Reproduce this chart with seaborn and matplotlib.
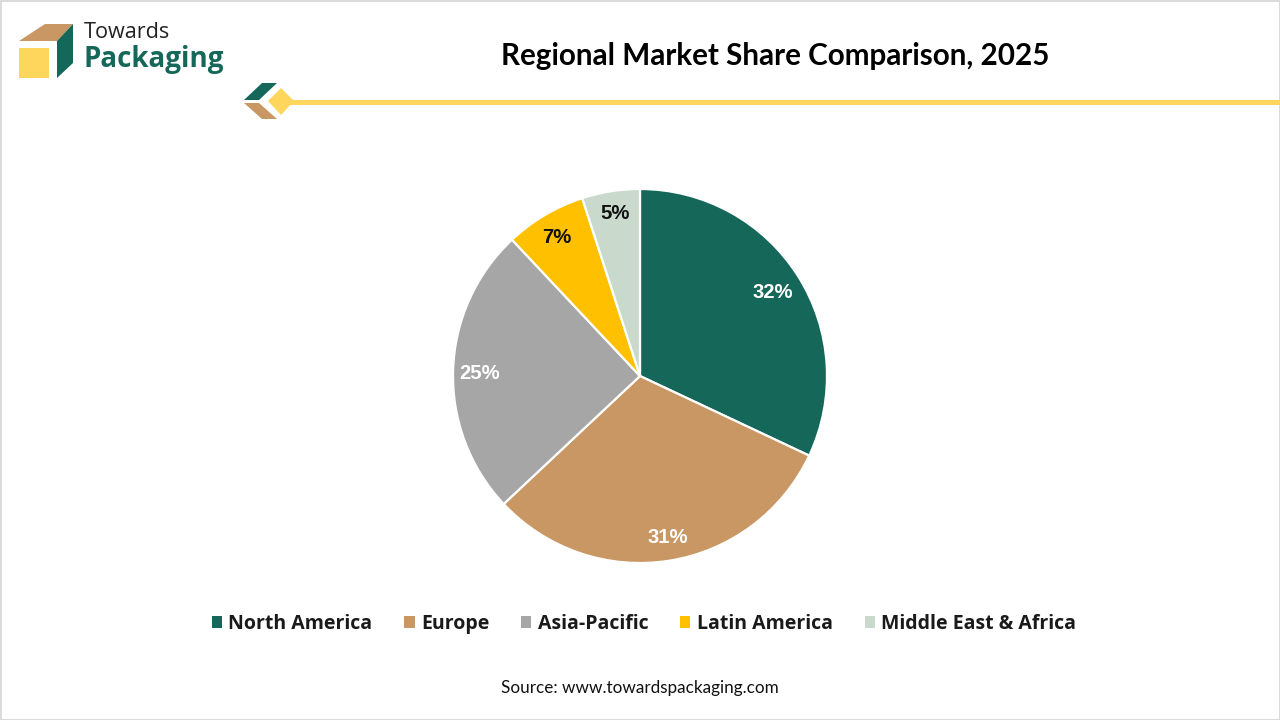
import matplotlib
matplotlib.use("Agg")
import matplotlib.pyplot as plt
from matplotlib.patches import Polygon, Rectangle
import seaborn as sns

regions = ["North America", "Europe", "Asia-Pacific", "Latin America", "Middle East & Africa"]
shares = [32, 31, 25, 7, 5]
palette = ["#156759", "#C89763", "#A6A6A6", "#FFC000", "#C9DACD"]
label_colors = ["white", "white", "white", "#111111", "#111111"]
label_nudges_px = [(-3, -3), (3, -3), (0, -3), (-1, 0), (0, 4)]
title = "Regional Market Share Comparison, 2025"
source = "Source: www.towardspackaging.com"

sns.set_theme(style="white")
sns.set_palette(palette)
fig = plt.figure(figsize=(12.8, 7.2), dpi=100, facecolor="white")

# overlay in pixel coordinates for branding
bg = fig.add_axes([0, 0, 1, 1])
bg.set_xlim(0, 1280); bg.set_ylim(720, 0); bg.axis("off")
bg.add_patch(Rectangle((0.5, 0.5), 1279, 719, fill=False, ec="#D4D4D4", lw=1.2))
bg.add_patch(Polygon([[19, 41], [45, 24], [73, 24], [57, 41]], fc="#C89763", ec="none"))
bg.add_patch(Polygon([[57, 41], [73, 24], [73, 63], [57, 78]], fc="#156759", ec="none"))
bg.add_patch(Rectangle((19, 48), 30, 30, fc="#FFD65C", ec="none"))
bg.text(84, 33, "Towards", fontsize=15.6, family="Open Sans", color="#222222", va="center")
bg.text(84, 60, "Packaging", fontsize=20, family="Open Sans", weight="bold", color="#156759", va="center")
bg.add_patch(Polygon([[244, 100], [262, 83], [277, 83], [259, 100]], fc="#156759", ec="none"))
bg.add_patch(Polygon([[244, 103], [259, 103], [277, 119], [262, 119]], fc="#C89763", ec="none"))
bg.add_patch(Rectangle((285, 100), 995, 5, fc="#FFD65C", ec="none"))
bg.add_patch(Polygon([[268, 101], [281, 88], [294, 101], [281, 115]], fc="#FFD65C", ec="none"))
bg.text(775.5, 56, title, fontsize=21.3, family="Lato", weight="bold", color="black", ha="center", va="center")
bg.text(640, 688, source, fontsize=12.3, family="Lato", color="#111111", ha="center", va="center")

# pie: centre (640, 376), radius 187 px
ax = fig.add_axes([(640 - 187) / 1280, (720 - 376 - 187) / 720, 374 / 1280, 374 / 720])
wedges, _, autotexts = ax.pie(
    shares, colors=palette, startangle=90, counterclock=False,
    autopct="%d%%", pctdistance=0.86,
    wedgeprops=dict(edgecolor="white", linewidth=1.6),
    textprops=dict(family="Liberation Sans", weight="bold", fontsize=14.6),
)
ax.set_xlim(-1, 1); ax.set_ylim(-1, 1)
for t, c, (dx, dy) in zip(autotexts, label_colors, label_nudges_px):
    t.set_color(c)
    x, y = t.get_position()
    t.set_position((x + dx / 187, y + dy / 187))

leg = fig.legend(
    wedges, regions, loc="center", bbox_to_anchor=(644 / 1280, (720 - 624) / 720),
    ncol=5, frameon=False, handlelength=0.52, handleheight=0.52, handletextpad=0.32,
    columnspacing=1.65, prop=dict(family="Open Sans", weight="bold", size=14),
    labelcolor="#1A1A1A",
)
for h in leg.legend_handles:
    h.set_edgecolor("none")

fig.savefig("out.png", dpi=100)
